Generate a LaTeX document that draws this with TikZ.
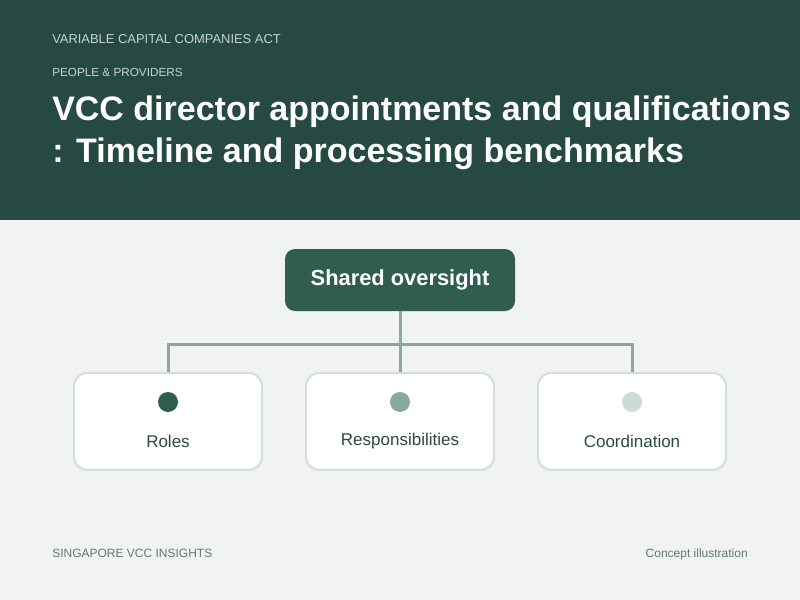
\documentclass[tikz,border=0pt]{standalone}
\usepackage{fontspec}
\setmainfont{Liberation Sans}
\usepackage{tikz}
\usepackage{xcolor}
\definecolor{headbg}{HTML}{264A41}
\definecolor{pagebg}{HTML}{F1F3F2}
\definecolor{darkgreen}{HTML}{2F5E50}
\definecolor{midgreen}{HTML}{88AA9B}
\definecolor{palegreen}{HTML}{CCDCD4}
\definecolor{boxline}{HTML}{D3E0D9}
\definecolor{labeltext}{HTML}{2B4A41}
\definecolor{foottext}{HTML}{5E7A70}
\definecolor{kickertext}{HTML}{C5D3CD}
\tikzstyle{rootbox} = [rectangle, rounded corners=7.5pt, fill=darkgreen, minimum width=172.5pt, minimum height=46.5pt, text=white, font=\fontsize{16.4}{19}\selectfont\bfseries]
\tikzstyle{leafbox} = [rectangle, rounded corners=10pt, draw=boxline, line width=1.5pt, fill=white, minimum width=141pt, minimum height=72.75pt]
\tikzstyle{marker} = [circle, minimum size=15pt, inner sep=0pt]
\tikzstyle{leaftext} = [text=labeltext, font=\fontsize{12.75}{15}\selectfont]
\tikzstyle{link} = [draw=midgreen, line width=2.25pt]

\begin{document}
\begin{tikzpicture}[x=0.75pt,y=-0.75pt]
  \fill[pagebg] (0,0) rectangle (800,600);
  \fill[headbg] (0,0) rectangle (800,220);
  \node[anchor=base west, inner sep=0pt, text=kickertext, font=\fontsize{9.7}{11}\selectfont] (act) at (52,43) {VARIABLE CAPITAL COMPANIES ACT};
  \node[anchor=base west, inner sep=0pt, text=kickertext, font=\fontsize{8.8}{10}\selectfont] (area) at (52,76) {PEOPLE \& PROVIDERS};
  \node[anchor=base west, inner sep=0pt, text=white, font=\fontsize{25.5}{30}\selectfont\bfseries] (title_a) at (52,120) {VCC director appointments and qualifications};
  \node[anchor=base west, inner sep=0pt, text=white, font=\fontsize{25.5}{30}\selectfont\bfseries] (title_b) at (52,162) {: Timeline and processing benchmarks};

  \node[rootbox] (shared) at (400,280) {Shared oversight};
  \node[leafbox] (resp) [below of=shared, node distance=106.1pt] {};
  \node[leafbox] (roles) [left of=resp, node distance=174pt] {};
  \node[leafbox] (coord) [right of=resp, node distance=174pt] {};
  \coordinate (bar) at (400,344);

  \path[link] (shared.south) -- (resp.north);
  \path[link] (roles.north) |- (coord.north |- bar) -- (coord.north);

  \node[marker, fill=darkgreen] (roles_dot) at ([yshift=14.6pt]roles.center) {};
  \node[marker, fill=midgreen] (resp_dot) at ([yshift=14.6pt]resp.center) {};
  \node[marker, fill=palegreen] (coord_dot) at ([yshift=14.6pt]coord.center) {};
  \node[leaftext] (roles_txt) at ([yshift=-14.6pt]roles.center) {Roles};
  \node[leaftext] (resp_txt) at ([yshift=-14.6pt]resp.center) {Responsibilities};
  \node[leaftext] (coord_txt) at ([yshift=-14.6pt]coord.center) {Coordination};

  \node[anchor=base west, inner sep=0pt, text=foottext, font=\fontsize{9}{11}\selectfont] (brand) at (52,557) {SINGAPORE VCC INSIGHTS};
  \node[anchor=base east, inner sep=0pt, text=foottext, font=\fontsize{9}{11}\selectfont] (note) at (748,557) {Concept illustration};
\end{tikzpicture}
\end{document}
